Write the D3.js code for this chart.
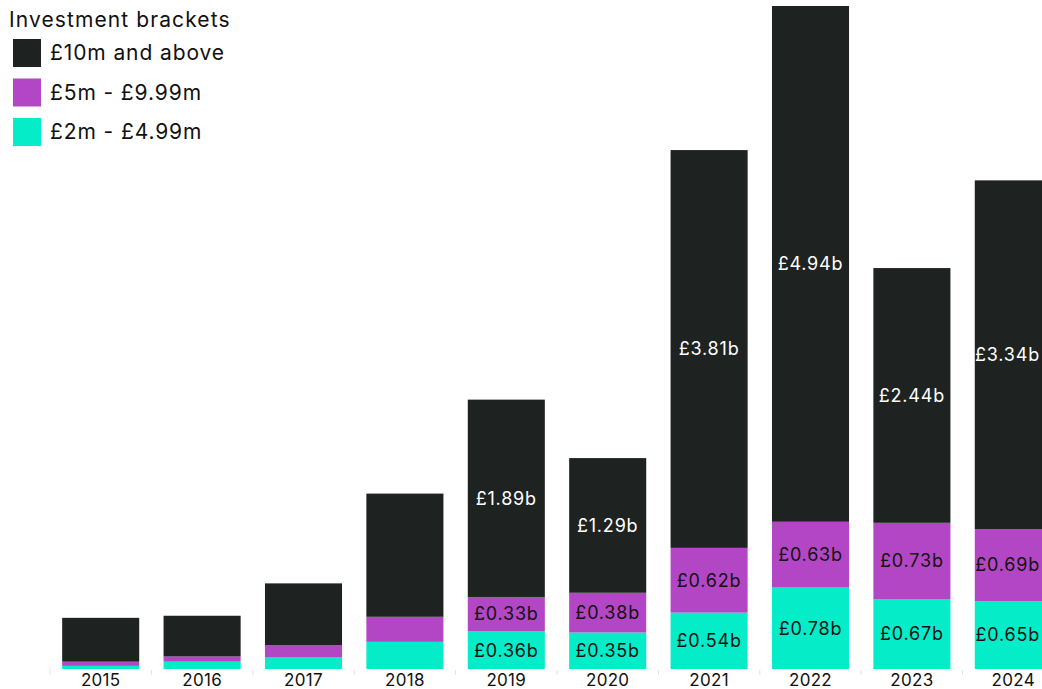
<!DOCTYPE html>
<html>
<head>
<meta charset="utf-8">
<script src="https://cdn.jsdelivr.net/npm/d3@7"></script>
<style>
  html, body { margin: 0; padding: 0; background: #fff; overflow: hidden; }
  svg { display: block; font-family: Inter, "Noto Sans", sans-serif; }
</style>
</head>
<body>
<svg id="chart" width="1042" height="689"></svg>
<script>
// Investment by bracket, £ billions
const years = ["2015", "2016", "2017", "2018", "2019", "2020", "2021", "2022", "2023", "2024"];
const bracket2to5 = [0.03, 0.07, 0.11, 0.26, 0.36, 0.35, 0.54, 0.78, 0.67, 0.65];
const bracket5to10 = [0.04, 0.05, 0.12, 0.24, 0.33, 0.38, 0.62, 0.63, 0.73, 0.69];
const bracket10plus = [0.42, 0.39, 0.59, 1.18, 1.89, 1.29, 3.81, 4.94, 2.44, 3.34];
// years whose segments carry value labels
const labelledYears = ["2019", "2020", "2021", "2022", "2023", "2024"];

const seriesKeys = ["b2", "b5", "b10"];
const seriesNames = {
  b10: "£10m and above",
  b5: "£5m - £9.99m",
  b2: "£2m - £4.99m"
};
const colors = { b2: "#05edc8", b5: "#b346c4", b10: "#1e2321" };
const labelColors = { b2: "#111", b5: "#111", b10: "#fff" };

const rows = years.map((y, i) => ({ year: y, b2: bracket2to5[i], b5: bracket5to10[i], b10: bracket10plus[i] }));
const stacked = d3.stack().keys(seriesKeys)(rows);

const svg = d3.select("#chart");
const W = 1042;
const baseY = 669;
const topY = 6;

const x = d3.scaleBand().domain(years).range([50, 1064]).paddingInner(0.24).paddingOuter(0.12);
const maxTotal = d3.max(rows, d => d.b2 + d.b5 + d.b10);
const y = d3.scaleLinear().domain([0, maxTotal]).range([baseY, topY]);

// bars
const layer = svg.append("g").selectAll("g").data(stacked).join("g")
  .attr("fill", s => colors[s.key]);
layer.selectAll("rect").data(s => s.map(d => ({ d, key: s.key }))).join("rect")
  .attr("x", o => x(o.d.data.year))
  .attr("width", x.bandwidth())
  .attr("y", o => y(o.d[1]))
  .attr("height", o => y(o.d[0]) - y(o.d[1]));

// value labels, kept inside the drawing area
const fmt = v => "£" + v.toFixed(2) + "b";
svg.append("g").selectAll("g").data(stacked).join("g")
  .attr("fill", s => labelColors[s.key])
  .selectAll("text")
  .data(s => s.filter(d => labelledYears.includes(d.data.year)))
  .join("text")
  .attr("x", d => x(d.data.year) + x.bandwidth() / 2)
  .attr("y", d => (y(d[0]) + y(d[1])) / 2)
  .attr("dy", "0.35em")
  .attr("text-anchor", "middle")
  .attr("font-size", 18)
  .attr("letter-spacing", 0.8)
  .text(d => fmt(d[1] - d[0]))
  .each(function () {
    const bb = this.getBBox();
    const overflow = bb.x + bb.width - (W - 2);
    if (overflow > 0) d3.select(this).attr("x", +d3.select(this).attr("x") - overflow);
  });

// x axis: ticks at band boundaries, labels centred
const axis = svg.append("g").attr("transform", `translate(0,${baseY})`);
const step = x.step();
const boundaries = years.map(yr => x(yr) - step * x.paddingInner() / 2);
axis.selectAll("line").data(boundaries).join("line")
  .attr("x1", d => d).attr("x2", d => d)
  .attr("y1", 1).attr("y2", 6)
  .attr("stroke", "#e2e2e2").attr("stroke-width", 1);
axis.selectAll("text").data(years).join("text")
  .attr("x", d => x(d) + x.bandwidth() / 2)
  .attr("y", 17)
  .attr("text-anchor", "middle")
  .attr("font-size", 17)
  .attr("letter-spacing", 0.3)
  .attr("fill", "#111")
  .text(d => d);

// legend
const legend = svg.append("g");
legend.append("text")
  .attr("x", 9).attr("y", 20).attr("dy", "0.35em")
  .attr("font-size", 21).attr("letter-spacing", 1.1).attr("fill", "#111")
  .text("Investment brackets");
const legendKeys = ["b10", "b5", "b2"];
const item = legend.selectAll("g.item").data(legendKeys).join("g")
  .attr("class", "item")
  .attr("transform", (k, i) => `translate(13,${39 + i * 39.5})`);
item.append("rect").attr("width", 28).attr("height", 28).attr("fill", k => colors[k]);
item.append("text")
  .attr("x", 37).attr("y", 14).attr("dy", "0.35em")
  .attr("font-size", 21).attr("letter-spacing", 0.9).attr("fill", "#111")
  .text(k => seriesNames[k]);
</script>
</body>
</html>
